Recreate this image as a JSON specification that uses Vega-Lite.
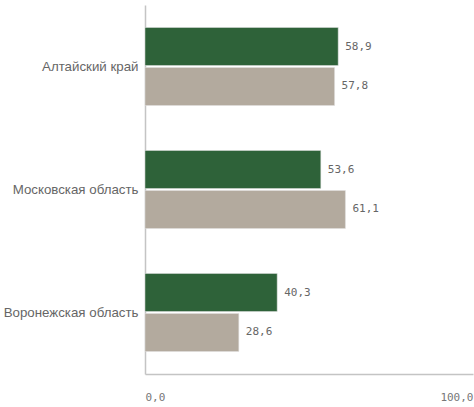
{
  "$schema": "https://vega.github.io/schema/vega-lite/v6.json",
  "width": 328,
  "height": 369,
  "autosize": "none",
  "padding": {"left": 145, "top": 5, "right": 1, "bottom": 33},
  "background": "white",
  "config": {
    "view": {"stroke": null},
    "locale": {"number": {"decimal": ",", "thousands": " ", "grouping": [3], "currency": ["", " ₽"]}}
  },
  "data": {
    "values": [
      {"region": "Алтайский край", "series": "A", "value": 58.9},
      {"region": "Алтайский край", "series": "B", "value": 57.8},
      {"region": "Московская область", "series": "A", "value": 53.6},
      {"region": "Московская область", "series": "B", "value": 61.1},
      {"region": "Воронежская область", "series": "A", "value": 40.3},
      {"region": "Воронежская область", "series": "B", "value": 28.6}
    ]
  },
  "encoding": {
    "y": {
      "field": "region",
      "type": "nominal",
      "sort": ["Алтайский край", "Московская область", "Воронежская область"],
      "scale": {"paddingInner": 0.366, "paddingOuter": 0.183},
      "axis": {
        "title": null,
        "ticks": false,
        "domainColor": "#c4c4c4",
        "domainWidth": 1.5,
        "labelFont": "Liberation Sans",
        "labelFontSize": 13.3,
        "labelColor": "#666666",
        "labelPadding": 7
      }
    },
    "yOffset": {
      "field": "series",
      "type": "nominal",
      "scale": {"paddingInner": 0.05}
    },
    "x": {
      "field": "value",
      "type": "quantitative",
      "scale": {"domain": [0, 100], "nice": false},
      "axis": {
        "title": null,
        "values": [0, 100],
        "format": ".1f",
        "grid": false,
        "ticks": false,
        "domain": true,
        "domainColor": "#c4c4c4",
        "domainWidth": 1.5,
        "labelFont": "DejaVu Sans Mono",
        "labelFontSize": 11,
        "labelColor": "#777777",
        "labelPadding": 17,
        "labelFlush": true
      }
    }
  },
  "layer": [
    {
      "mark": {"type": "bar", "stroke": "#e0e0e0", "strokeWidth": 0.5},
      "encoding": {
        "color": {
          "field": "series",
          "type": "nominal",
          "scale": {"domain": ["A", "B"], "range": ["#2e6239", "#b3aa9e"]},
          "legend": null
        }
      }
    },
    {
      "mark": {"type": "text", "align": "left", "dx": 7, "font": "DejaVu Sans Mono", "fontSize": 11, "color": "#666666"},
      "encoding": {
        "text": {"field": "value", "type": "quantitative", "format": ".1f"}
      }
    }
  ]
}
